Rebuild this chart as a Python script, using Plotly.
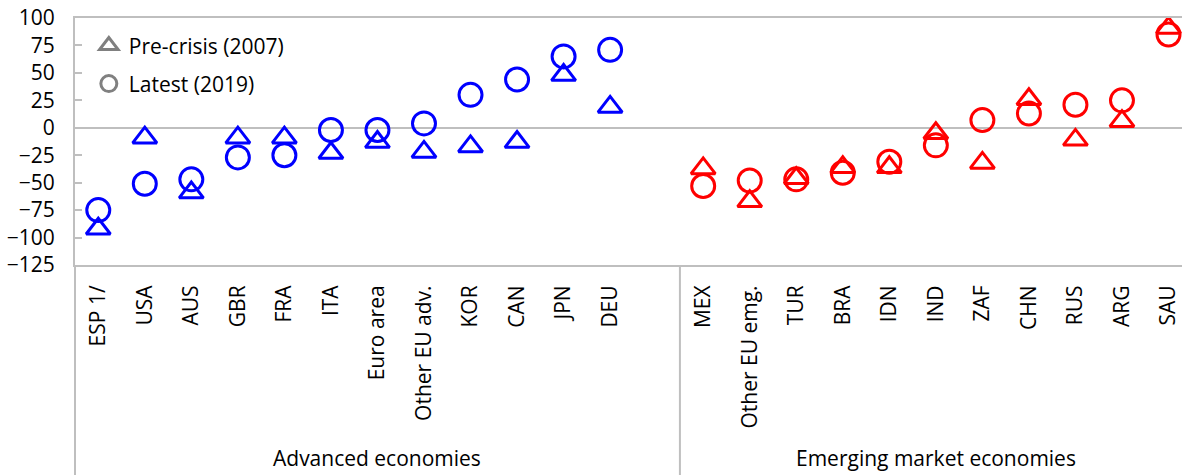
import plotly.graph_objects as go

# Categories (advanced economies, then emerging market economies)
adv_names = ["ESP 1/", "USA", "AUS", "GBR", "FRA", "ITA", "Euro area",
             "Other EU adv.", "KOR", "CAN", "JPN", "DEU"]
emg_names = ["MEX", "Other EU emg.", "TUR", "BRA", "IDN", "IND", "ZAF",
             "CHN", "RUS", "ARG", "SAU"]

# Values, percent
adv_pre = [-92, -9, -59, -9, -9, -23, -13, -22, -17, -13, 48, 19]
adv_latest = [-75, -51, -47, -27, -25, -2, -2, 4, 30, 44, 65, 71]
emg_pre = [-37, -67, -46, -36, -36, -5, -32, 26, -11, 6, 91]
emg_latest = [-53, -48, -47, -41, -31, -16, 7, 13, 21, 25, 85]

group_labels = ["Advanced economies", "Emerging market economies"]
y_ticks = [100, 75, 50, 25, 0, -25, -50, -75, -100, -125]

# One empty slot separates the two groups on the category axis
adv_x = list(range(len(adv_names)))
emg_x = [len(adv_names) + 1 + i for i in range(len(emg_names))]
split_x = len(adv_names) + 0.5
last_x = emg_x[-1] + 0.5

FONT = "Open Sans"
FSIZE = 21
BLUE = "#0000FF"
RED = "#FF0000"
GREY_MARK = "#808080"
LINE = "#BFBFBF"

tri = dict(symbol="triangle-up-open", size=21, line=dict(width=3))
circ = dict(symbol="circle-open", size=23, line=dict(width=3))

fig = go.Figure()

for xs, ys, col in [(adv_x, adv_pre, BLUE), (emg_x, emg_pre, RED)]:
    fig.add_trace(go.Scatter(x=xs, y=ys, mode="markers", showlegend=False,
                             marker=dict(tri, color=col), hoverinfo="y"))
for xs, ys, col in [(adv_x, adv_latest, BLUE), (emg_x, emg_latest, RED)]:
    fig.add_trace(go.Scatter(x=xs, y=ys, mode="markers", showlegend=False,
                             marker=dict(circ, color=col), hoverinfo="y"))

# Legend entries in grey, each in its own legend box
fig.add_trace(go.Scatter(x=[None], y=[None], mode="markers", name="Pre-crisis (2007)",
                         marker=dict(symbol="triangle-up-open", size=16, color=GREY_MARK,
                                     line=dict(width=3)), legend="legend"))
fig.add_trace(go.Scatter(x=[None], y=[None], mode="markers", name="Latest (2019)",
                         marker=dict(symbol="circle-open", size=16, color=GREY_MARK,
                                     line=dict(width=3)), legend="legend2"))

plot_h = 247
bottom_px = 210
paper_bottom = -bottom_px / plot_h - 0.01

shapes = [
    # left axis line continued through the label area
    dict(type="line", xref="paper", yref="paper", x0=0, x1=0, y0=paper_bottom, y1=0,
         line=dict(color=LINE, width=2)),
    # divider between the two groups
    dict(type="line", xref="x", yref="paper", x0=split_x, x1=split_x, y0=paper_bottom, y1=0,
         line=dict(color=LINE, width=2)),
]

annotations = [
    dict(text=group_labels[0], x=(-0.5 + split_x) / 2, xref="x", y=-0.78, yref="paper",
         showarrow=False, xanchor="center", yanchor="middle",
         font=dict(family=FONT, size=FSIZE, color="#000000")),
    dict(text=group_labels[1], x=(split_x + last_x) / 2, xref="x", y=-0.78, yref="paper",
         showarrow=False, xanchor="center", yanchor="middle",
         font=dict(family=FONT, size=FSIZE, color="#000000")),
]

legend_style = dict(font=dict(family=FONT, size=FSIZE, color="#000000"),
                    bgcolor="rgba(0,0,0,0)", borderwidth=0, xanchor="left",
                    yanchor="middle", itemclick=False, itemdoubleclick=False)

fig.update_layout(
    width=1182, height=475,
    margin=dict(l=75, r=0, t=18, b=bottom_px),
    paper_bgcolor="white", plot_bgcolor="white",
    font=dict(family=FONT, size=FSIZE, color="#000000"),
    showlegend=True,
    legend=dict(legend_style, x=0.0125, y=0.887),
    legend2=dict(legend_style, x=0.0125, y=0.733),
    xaxis=dict(
        range=[-0.5, 23.29],
        tickmode="array", tickvals=adv_x + emg_x, ticktext=adv_names + emg_names,
        tickangle=-90, ticks="", ticklabelstandoff=10,
        showgrid=False, zeroline=False,
        showline=True, mirror=True, linecolor=LINE, linewidth=2,
        tickfont=dict(family=FONT, size=FSIZE, color="#000000"),
    ),
    yaxis=dict(
        range=[-125, 100], tickvals=y_ticks,
        ticks="inside", ticklen=7, tickwidth=2, tickcolor=LINE,
        showgrid=False, zeroline=True, zerolinecolor=LINE, zerolinewidth=2,
        showline=True, linecolor=LINE, linewidth=2,
        tickfont=dict(family=FONT, size=FSIZE, color="#000000"),
        ticklabelstandoff=14,
    ),
    shapes=shapes,
    annotations=annotations,
)

fig.write_html("out.html")
